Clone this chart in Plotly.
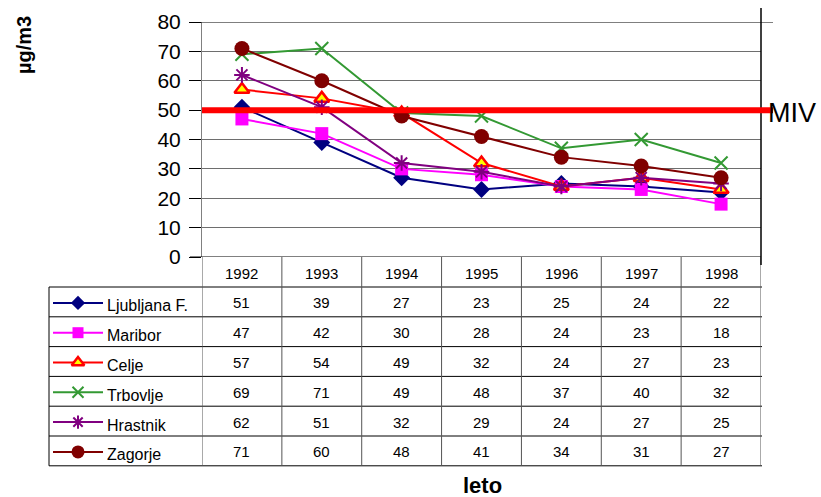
import plotly.graph_objects as go

years = ["1992", "1993", "1994", "1995", "1996", "1997", "1998"]
series_names = ["Ljubljana F.", "Maribor", "Celje", "Trbovlje", "Hrastnik", "Zagorje"]
ljubljana = [51, 39, 27, 23, 25, 24, 22]
maribor = [47, 42, 30, 28, 24, 23, 18]
celje = [57, 54, 49, 32, 24, 27, 23]
trbovlje = [69, 71, 49, 48, 37, 40, 32]
hrastnik = [62, 51, 32, 29, 24, 27, 25]
zagorje = [71, 60, 48, 41, 34, 31, 27]
miv_value = 50
miv_label = "MIV"
y_title = "µg/m3"
x_title = "leto"
y_ticks = [0, 10, 20, 30, 40, 50, 60, 70, 80]

values = [ljubljana, maribor, celje, trbovlje, hrastnik, zagorje]
styles = [
    dict(line="#000080", symbol="diamond", fill="#000080", mline="#000080", mw=0, size=13),
    dict(line="#FF00FF", symbol="square", fill="#FF00FF", mline="#FF00FF", mw=0, size=13),
    dict(line="#FF0000", symbol="triangle-up", fill="#FFFF00", mline="#FF0000", mw=2.5, size=13),
    dict(line="#339933", symbol="x-thin", fill="#339933", mline="#339933", mw=2, size=13),
    dict(line="#800080", symbol="asterisk-open", fill="#800080", mline="#800080", mw=2, size=13),
    dict(line="#800000", symbol="circle", fill="#800000", mline="#800000", mw=0, size=15),
]

# body margin removed via post_script, so figure fills the window
OFF = 0
VW, VH = 821, 497
W, H = VW - OFF, VH - OFF
L, R, T, B = 202, 761, 22, 257
FONT = "Liberation Sans, Arial, sans-serif"

fig = go.Figure()
xs = list(range(len(years)))
for name, vals, st in zip(series_names, values, styles):
    fig.add_trace(go.Scatter(
        x=xs, y=vals, name=name, mode="lines+markers",
        line=dict(color=st["line"], width=2),
        marker=dict(symbol=st["symbol"], color=st["fill"], size=st["size"],
                    line=dict(color=st["mline"], width=st["mw"])),
        cliponaxis=False, showlegend=False, xaxis="x", yaxis="y"))

header_bottom = 287
row_h = 29.8
row_edges = [header_bottom + row_h * k for k in range(len(series_names) + 1)]
legend_left = 49

shapes = []
line_black = dict(color="#000000", width=1)
line_gray = dict(color="#555555", width=1)
for yy in row_edges:
    shapes.append(dict(type="line", xref="x2", yref="y2", x0=legend_left, x1=R + 1, y0=yy, y1=yy, line=line_black, layer="above"))
for i in range(len(years) + 1):
    shapes.append(dict(type="line", xref="x", yref="y2", x0=i - 0.5, x1=i - 0.5, y0=B, y1=row_edges[-1], line=line_gray, layer="above"))
shapes.append(dict(type="line", xref="x2", yref="y2", x0=legend_left, x1=legend_left, y0=header_bottom, y1=row_edges[-1], line=line_black, layer="above"))
shapes.append(dict(type="line", xref="x2", yref="y", x0=190, x1=773, y0=80, y1=80, line=line_black, layer="above"))
shapes.append(dict(type="line", xref="x2", yref="y", x0=190, x1=R, y0=0, y1=0, line=line_black, layer="above"))
shapes.append(dict(type="line", xref="x2", yref="y2", x0=R, x1=R, y0=8, y1=265, line=dict(color="#000000", width=1.5), layer="above"))
shapes.append(dict(type="line", xref="x2", yref="y", x0=L, x1=773, y0=miv_value, y1=miv_value, line=dict(color="#FF0000", width=6), layer="above"))

annotations = []
for i, yr in enumerate(years):
    annotations.append(dict(xref="x", yref="y2", x=i, y=(B + header_bottom) / 2 + 1, text=yr, showarrow=False,
                            font=dict(family=FONT, size=15, color="#000"), xanchor="center", yanchor="middle"))
for r, (name, vals, st) in enumerate(zip(series_names, values, styles)):
    yc = (row_edges[r] + row_edges[r + 1]) / 2
    for i, v in enumerate(vals):
        annotations.append(dict(xref="x", yref="y2", x=i, y=yc + 1, text=str(v), showarrow=False,
                                font=dict(family=FONT, size=15, color="#000"), xanchor="center", yanchor="middle"))
    annotations.append(dict(xref="x2", yref="y2", x=105, y=yc + 4, text=name, showarrow=False,
                            font=dict(family=FONT, size=16, color="#000"), xanchor="left", yanchor="middle"))
    fig.add_trace(go.Scatter(x=[53, 103], y=[yc + 1, yc + 1], mode="lines", line=dict(color=st["line"], width=2),
                             showlegend=False, xaxis="x2", yaxis="y2", hoverinfo="skip", cliponaxis=False))
    fig.add_trace(go.Scatter(x=[78], y=[yc + 1], mode="markers",
                             marker=dict(symbol=st["symbol"], color=st["fill"], size=st["size"] - 2,
                                         line=dict(color=st["mline"], width=st["mw"])),
                             showlegend=False, xaxis="x2", yaxis="y2", hoverinfo="skip", cliponaxis=False))

annotations.append(dict(xref="x2", yref="y", x=766, y=miv_value, text=miv_label, showarrow=False,
                        font=dict(family=FONT, size=27, color="#000"), xanchor="left", yanchor="middle", yshift=-3))
annotations.append(dict(xref="x2", yref="y2", x=24, y=45, text="<b>" + y_title + "</b>", textangle=-90, showarrow=False,
                        font=dict(family=FONT, size=20, color="#000"), xanchor="center", yanchor="middle"))
annotations.append(dict(xref="x2", yref="y2", x=482, y=485, text="<b>" + x_title + "</b>", showarrow=False,
                        font=dict(family=FONT, size=22, color="#000"), xanchor="center", yanchor="middle"))

fig.update_layout(
    template="none",
    width=W, height=H,
    margin=dict(l=0, r=0, t=0, b=0, autoexpand=False),
    paper_bgcolor="white", plot_bgcolor="rgba(0,0,0,0)",
    showlegend=False,
    xaxis=dict(domain=[(L - OFF) / W, (R - OFF) / W], range=[-0.5, len(years) - 0.5], visible=False,
               anchor="y", automargin=False),
    yaxis=dict(domain=[1 - (B - OFF) / H, 1 - (T - OFF) / H], range=[0, 80], tickvals=y_ticks,
               ticks="outside", ticklen=12, tickcolor="#000", tickwidth=1, ticklabelstandoff=4,
               showline=True, linecolor="#808080", linewidth=1,
               showgrid=True, gridcolor="#6e6e6e", gridwidth=1, zeroline=False, automargin=False,
               tickfont=dict(family=FONT, size=21, color="#000"), anchor="x"),
    xaxis2=dict(domain=[0, 1], range=[OFF, VW], visible=False, anchor="y2", automargin=False),
    yaxis2=dict(domain=[0, 1], range=[VH, OFF], visible=False, anchor="x2", automargin=False),
    shapes=shapes, annotations=annotations,
)

fig.write_html("out.html", config={"displayModeBar": False},
               post_script="document.body.style.margin='0';document.body.style.overflow='hidden';")
